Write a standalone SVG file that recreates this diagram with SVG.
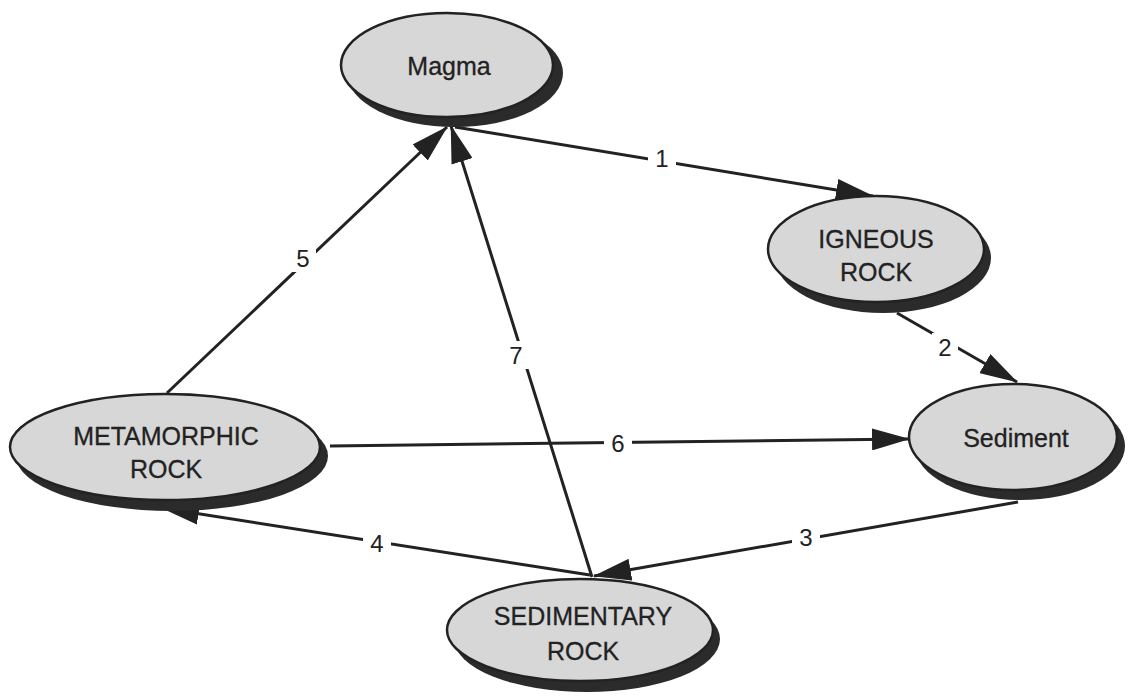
<svg xmlns="http://www.w3.org/2000/svg" width="1129" height="696" viewBox="0 0 1129 696">
  <style>
    .shadow { fill: #2b2b2b; }
    .body { fill: #d7d7d7; stroke: #222; stroke-width: 2.5; }
    .name { font-family: "Liberation Sans", Arial, sans-serif; font-size: 25px; fill: #222; stroke: #222; stroke-width: 0.3; text-anchor: middle; }
    .edge { stroke: #222; stroke-width: 3; fill: none; }
    .num { font-family: "Liberation Sans", Arial, sans-serif; font-size: 24px; fill: #222; text-anchor: middle; }
    .gap { fill: #fff; }
  </style>
  <defs>
    <marker id="head" viewBox="0 0 38 22" refX="37" refY="11" markerWidth="38" markerHeight="22" markerUnits="userSpaceOnUse" orient="auto">
      <path d="M0,0 L38,11 L0,22 Z" fill="#222"/>
    </marker>
  </defs>
  <rect width="1129" height="696" fill="#fff"/>

  <!-- connectors -->
  <g id="connectors">
    <line class="edge" x1="455" y1="127" x2="873" y2="196" marker-end="url(#head)"/>
    <line class="edge" x1="897" y1="313" x2="1017" y2="382" marker-end="url(#head)"/>
    <line class="edge" x1="1018" y1="502" x2="594" y2="576" marker-end="url(#head)"/>
    <line class="edge" x1="590" y1="575" x2="162" y2="508" marker-end="url(#head)"/>
    <line class="edge" x1="167" y1="393" x2="447" y2="127" marker-end="url(#head)"/>
    <line class="edge" x1="330" y1="446" x2="909" y2="439" marker-end="url(#head)"/>
    <line class="edge" x1="592" y1="577" x2="451" y2="126" marker-end="url(#head)"/>

    <!-- breaks in the lines behind the step numbers -->
    <rect class="gap" x="648" y="144" width="28" height="28"/>
    <rect class="gap" x="932" y="333" width="26" height="28"/>
    <rect class="gap" x="792" y="523" width="28" height="28"/>
    <rect class="gap" x="363" y="530" width="28" height="28"/>
    <rect class="gap" x="290" y="244" width="26" height="28"/>
    <rect class="gap" x="604" y="429" width="28" height="28"/>
    <rect class="gap" x="503" y="341" width="26" height="28"/>

    <text class="num" x="662" y="167">1</text>
    <text class="num" x="945" y="356">2</text>
    <text class="num" x="806" y="546">3</text>
    <text class="num" x="377" y="552">4</text>
    <text class="num" x="303" y="267">5</text>
    <text class="num" x="618" y="452">6</text>
    <text class="num" x="516" y="364">7</text>
  </g>

  <g id="magma">
    <ellipse class="shadow" cx="455" cy="73" rx="108" ry="54"/>
    <ellipse class="body" cx="447" cy="65" rx="106" ry="52"/>
    <text class="name" x="449" y="75">Magma</text>
  </g>

  <g id="igneous-rock">
    <ellipse class="shadow" cx="883" cy="258" rx="108" ry="55"/>
    <ellipse class="body" cx="876" cy="249" rx="108" ry="53"/>
    <text class="name" x="876" y="248">IGNEOUS</text>
    <text class="name" x="876" y="281">ROCK</text>
  </g>

  <g id="sediment">
    <ellipse class="shadow" cx="1020" cy="446" rx="105" ry="54"/>
    <ellipse class="body" cx="1013" cy="437" rx="104" ry="53"/>
    <text class="name" x="1016" y="447">Sediment</text>
  </g>

  <g id="metamorphic-rock">
    <ellipse class="shadow" cx="172" cy="456" rx="156" ry="55"/>
    <ellipse class="body" cx="165" cy="447" rx="155" ry="53"/>
    <text class="name" x="166" y="445">METAMORPHIC</text>
    <text class="name" x="166" y="478">ROCK</text>
  </g>

  <g id="sedimentary-rock">
    <ellipse class="shadow" cx="587" cy="639" rx="133" ry="53"/>
    <ellipse class="body" cx="580" cy="630" rx="133" ry="51"/>
    <text class="name" x="583" y="625">SEDIMENTARY</text>
    <text class="name" x="583" y="660">ROCK</text>
  </g>
</svg>
